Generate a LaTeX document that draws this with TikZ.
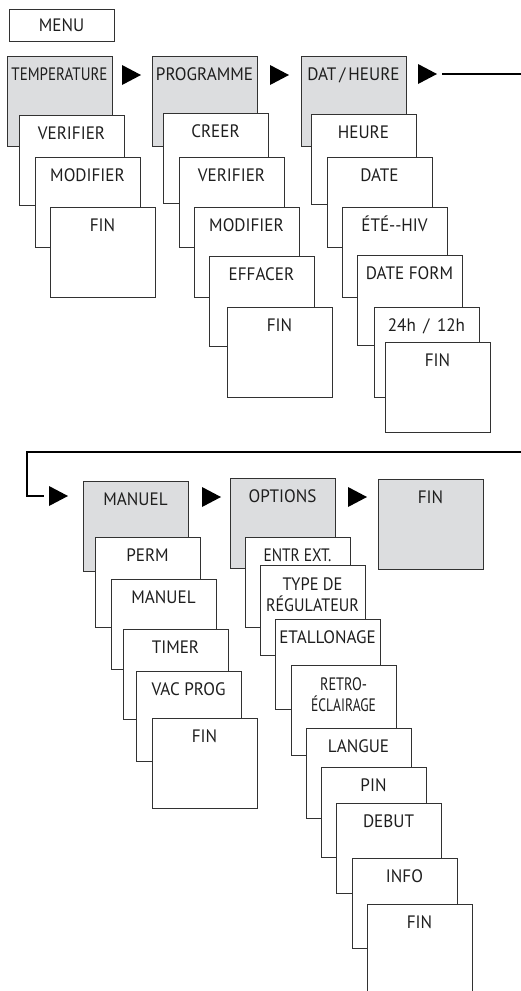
\documentclass[tikz,border=0pt]{standalone}
\usepackage{fontspec}
\setmainfont{PT Sans}[FakeStretch=0.95]
\usepackage{graphicx}
\definecolor{fillg}{RGB}{220,221,223}
\definecolor{edge}{RGB}{50,50,50}
\definecolor{txt}{RGB}{30,30,30}
\tikzset{
  box/.style={draw=edge, line width=1pt, fill=white, minimum width=105pt, minimum height=90pt, inner sep=0pt, outer sep=0pt, anchor=north west},
  gbox/.style={box, fill=fillg},
  menubox/.style={box, minimum height=32pt},
  lbl/.style={text=txt, font=\fontsize{18}{21}\selectfont, inner sep=0pt, anchor=base, align=center},
  link/.style={draw=black, line width=2.2pt},
  tri/.style={fill=black}
}
\newcommand{\bx}[5]{%
  \node[#5] (#1) at (#2,#3) {};
  \node[lbl] (#1-t) at ([yshift=-24pt]#1.north) {#4};}
\newcommand{\bxx}[5]{%
  \node[#5] (#1) at (#2,#3) {};
  \node[lbl] (#1-t) at ([yshift=-46pt]#1.north) {#4};}
\newcommand{\fitw}[2]{\resizebox{#1}{\height}{#2}}
\newcommand{\tria}[3]{%
  \coordinate (#1) at (#2,#3);
  \fill[tri] ([yshift=10pt]#1) -- ([xshift=19pt]#1) -- ([yshift=-10pt]#1) -- cycle;}
\begin{document}
\begin{tikzpicture}[x=1pt,y=-1pt]
\useasboundingbox (0,0) rectangle (520,991);
% MENU
\node[menubox] (menu) at (9,9) {};
\node[lbl, anchor=center] (menu-t) at (menu.center) {MENU};
% TEMPERATURE column
\bx{temp}{7}{56}{\fitw{96pt}{TEMPERATURE}}{gbox}
\bx{tver}{19}{115}{VERIFIER}{box}
\bx{tmod}{35}{157}{MODIFIER}{box}
\bx{tfin}{50}{207}{FIN}{box}
\tria{a1}{122}{75}
% PROGRAMME column
\bx{prog}{152}{56}{PROGRAMME}{gbox}
\bx{pcre}{163}{113}{CREER}{box}
\bx{pver}{179}{157}{VERIFIER}{box}
\bx{pmod}{194}{207}{MODIFIER}{box}
\bx{peff}{209}{256}{EFFACER}{box}
\bx{pfin}{227}{307}{FIN}{box}
\tria{a2}{270}{75}
% DAT/HEURE column
\bx{dat}{301}{56}{DAT\,/\,HEURE}{gbox}
\bx{dheu}{311}{114}{HEURE}{box}
\bx{ddat}{327}{157}{DATE}{box}
\bx{dete}{342}{207}{ÉTÉ-{}-HIV}{box}
\bx{dfor}{357}{255}{DATE FORM}{box}
\bx{d24}{374}{307}{24h \,/\, 12h}{box}
\bx{dfin}{385}{342}{FIN}{box}
\tria{a3}{418}{74}
% wrap-around connector
\coordinate (w0) at (442,74);
\coordinate (w1) at (530,74);
\coordinate (w2) at (530,452);
\coordinate (w3) at (27,452);
\coordinate (w4) at (27,496);
\coordinate (w5) at (44,496);
\draw[link] (w0) -- (w1) -- (w2) -- (w3) -- (w4) -- (w5);
\tria{a4}{49}{496}
% MANUEL column
\bx{man}{83}{481}{MANUEL}{gbox}
\bx{mper}{95}{537}{PERM}{box}
\bx{mman}{111}{579}{MANUEL}{box}
\bx{mtim}{123}{629}{TIMER}{box}
\bx{mvac}{136}{671}{VAC PROG}{box}
\bx{mfin}{152}{718}{FIN}{box}
\tria{a5}{202}{497}
% OPTIONS column
\bx{opt}{230}{478}{OPTIONS}{gbox}
\bx{oent}{245}{537}{\fitw{68pt}{ENTR EXT.}}{box}
\bxx{otyp}{260}{565}{\fitw{60pt}{TYPE DE}\\\fitw{93pt}{RÉGULATEUR}}{box}
\bx{oeta}{275}{619}{ETALLONAGE}{box}
\bxx{oret}{291}{665}{\fitw{47pt}{RETRO-}\\\fitw{65pt}{ÉCLAIRAGE}}{box}
\bx{olan}{306}{728}{LANGUE}{box}
\bx{opin}{321}{767}{PIN}{box}
\bx{odeb}{336}{803}{DEBUT}{box}
\bx{oinf}{352}{858}{INFO}{box}
\bx{ofin}{367}{904}{FIN}{box}
\tria{a6}{348}{497}
% FIN final
\bx{fin}{378}{479}{FIN}{gbox}
\end{tikzpicture}
\end{document}
